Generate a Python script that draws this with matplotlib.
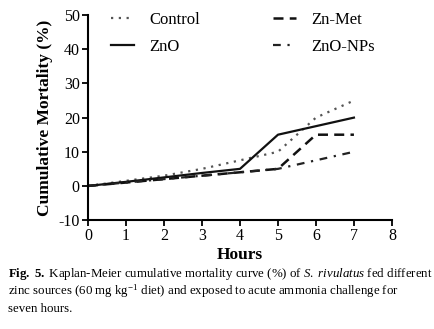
import matplotlib
matplotlib.use("Agg")
import matplotlib.pyplot as plt

plt.rcParams['font.family'] = ['Liberation Serif', 'DejaVu Serif']
plt.rcParams['mathtext.fontset'] = 'custom'
plt.rcParams['mathtext.rm'] = 'Liberation Serif'
plt.rcParams['mathtext.it'] = 'Liberation Serif:italic'
plt.rcParams['mathtext.bf'] = 'Liberation Serif:bold'
plt.rcParams['axes.unicode_minus'] = False

# Hours and cumulative mortality (%)
hours = [0, 1, 2, 3, 4, 5, 6, 7]
control = [0, 1.5, 3, 5, 7.5, 10, 20, 25]
zno = [0, 1.2, 2.5, 3.8, 5, 15, 17.5, 20]
zn_met = [0, 1, 2, 3, 4, 5, 15, 15]
zno_nps = [0, 1, 2, 3, 4, 5, 7.5, 10]

x_ticks = [0, 1, 2, 3, 4, 5, 6, 7, 8]
y_ticks = [-10, 0, 10, 20, 30, 40, 50]

fig = plt.figure(figsize=(4.34, 3.29), dpi=100)
ax = fig.add_axes([0.203, 0.331, 0.700, 0.623])

ax.plot(hours, control, color="#555555", linestyle=(0, (1, 2.5)), linewidth=1.6, label="Control")
ax.plot(hours, zno, color="#111111", linestyle="-", linewidth=1.6, label="ZnO")
ax.plot(hours, zn_met, color="#111111", linestyle=(0, (4, 2.5)), linewidth=1.8, label="Zn-Met")
ax.plot(hours, zno_nps, color="#222222", linestyle=(0, (3.5, 3, 1, 3)), linewidth=1.6, label="ZnO-NPs")

ax.set_xlim(0, 8)
ax.set_ylim(-10, 50)
ax.set_xticks(x_ticks)
ax.set_yticks(y_ticks)
ax.tick_params(direction="out", length=4, width=1.3, labelsize=11.5, pad=2)

for side in ["top", "right"]:
    ax.spines[side].set_visible(False)
for side in ["left", "bottom"]:
    ax.spines[side].set_linewidth(1.5)

ax.set_xlabel("Hours", fontsize=12.5, fontweight="bold", labelpad=2)
ax.set_ylabel("Cumulative Mortality (%)", fontsize=12.5, fontweight="bold", labelpad=4)

ax.legend(ncol=2, loc="upper left", bbox_to_anchor=(0.025, 1.09), frameon=False,
          fontsize=12, handlelength=1.4, handletextpad=0.9, columnspacing=4.4,
          labelspacing=0.65)

caption = [
    r"$\mathbf{Fig.\ 5.}$ Kaplan-Meier cumulative mortality curve (%) of $\mathit{S.\ rivulatus}$ fed different",
    r"zinc sources (60 mg kg$^{-1}$ diet) and exposed to acute ammonia challenge for",
    "seven hours.",
]
for i, line in enumerate(caption):
    fig.text(0.018, 1 - (274 + 17.5 * i) / 329, line, fontsize=9.3, va="center", ha="left")

fig.savefig("out.png", dpi=100, facecolor="white")
